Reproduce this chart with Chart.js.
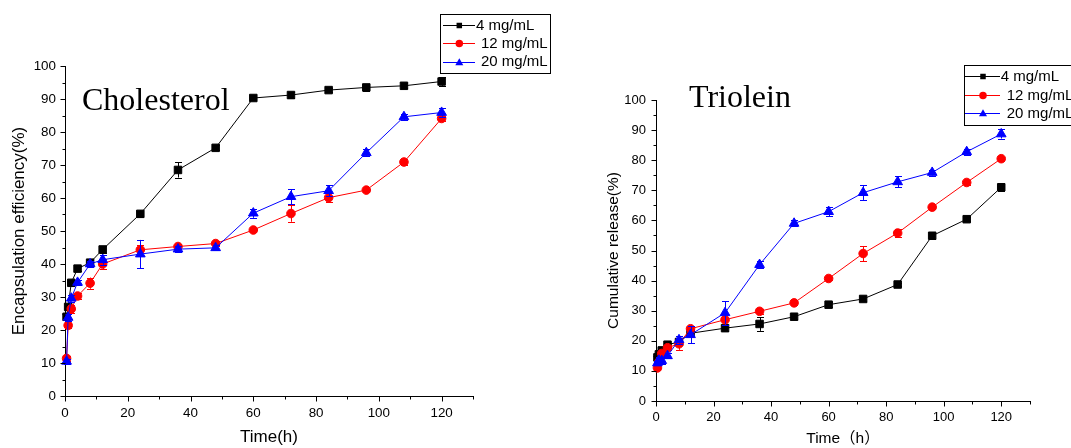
<!DOCTYPE html>
<html><head><meta charset="utf-8">
<script src="https://cdn.jsdelivr.net/npm/chart.js@4.4.1/dist/chart.umd.min.js"></script>
<style>
html,body{margin:0;padding:0;overflow:hidden;background:#fff;width:1071px;height:448px}
#c1{position:absolute;left:0;top:0}
#c2{position:absolute;left:560px;top:0}
</style></head><body>
<canvas id="c1" width="560" height="448"></canvas>
<canvas id="c2" width="540" height="448"></canvas>
<script>
// ---------- data ----------
const times = [0.5, 1, 2, 4, 8, 12, 24, 36, 48, 60, 72, 84, 96, 108, 120];
const seriesLabels = ['4 mg/mL', '12 mg/mL', '20 mg/mL'];

const chol4     = [24.0, 27.0, 34.3, 38.6, 40.4, 44.4, 55.2, 68.5, 75.2, 90.3, 91.2, 92.7, 93.5, 94.0, 95.3];
const chol4Err  = [0.8, 1.0, 1.0, 0.8, 0.8, 1.0, 1.0, 2.3, 0.8, 0.6, 0.8, 0.6, 1.0, 0.8, 1.3];
const chol12    = [11.4, 21.4, 26.4, 30.3, 34.2, 40.0, 44.3, 45.3, 46.2, 50.3, 55.3, 60.1, 62.4, 70.9, 84.1];
const chol12Err = [0.8, 0.8, 1.2, 0.8, 1.7, 1.5, 1.5, 0.8, 0.8, 0.6, 2.5, 1.3, 0.6, 1.0, 0.7];
const chol20    = [10.5, 23.8, 29.6, 34.4, 40.0, 41.3, 43.0, 44.5, 44.9, 55.4, 60.4, 62.2, 73.7, 84.6, 85.9];
const chol20Err = [0.8, 1.0, 1.0, 0.8, 1.0, 1.5, 4.3, 1.0, 0.8, 1.4, 2.3, 1.7, 1.0, 1.0, 1.3];

const tri4      = [14.5, 15.5, 16.8, 18.7, 19.6, 22.5, 24.2, 25.6, 28.0, 32.0, 33.9, 38.7, 54.9, 60.4, 71.0];
const tri4Err   = [0.6, 0.6, 0.8, 0.6, 1.0, 1.0, 1.0, 2.3, 0.6, 0.8, 0.6, 0.6, 1.0, 0.6, 1.3];
const tri12     = [11.0, 13.0, 15.8, 17.7, 19.0, 24.0, 27.0, 29.8, 32.6, 40.7, 49.0, 55.8, 64.4, 72.6, 80.5];
const tri12Err  = [0.6, 0.8, 1.0, 0.8, 2.0, 1.0, 1.8, 0.8, 0.8, 0.6, 2.5, 1.2, 0.6, 0.8, 0.7];
const tri20     = [12.6, 13.5, 13.4, 15.0, 20.3, 22.0, 29.3, 45.3, 59.0, 62.9, 69.2, 72.8, 75.9, 82.8, 88.7];
const tri20Err  = [0.8, 1.0, 1.0, 0.8, 1.2, 2.8, 3.9, 1.2, 1.0, 1.6, 2.4, 1.8, 1.0, 1.0, 1.5];

const xMajorTicks = [0, 20, 40, 60, 80, 100, 120];
const xTickLabels = ['0', '20', '40', '60', '80', '100', '120'];
const xMinorTicks = [10, 30, 50, 70, 90, 110, 130];
const yMajorTicks = [0, 10, 20, 30, 40, 50, 60, 70, 80, 90, 100];
const yTickLabels = ['0', '10', '20', '30', '40', '50', '60', '70', '80', '90', '100'];
const yMinorTicks = [5, 15, 25, 35, 45, 55, 65, 75, 85, 95];

// ---------- styling ----------
const SANS = "'Liberation Sans', Arial, 'Noto Sans CJK SC', sans-serif";
const SERIF = "'Liberation Serif', 'Times New Roman', serif";
const COLORS = ['#000000', '#ff0000', '#0000ff'];
const STYLES = ['rect', 'circle', 'triangle'];
const RADII = [5.3, 4.3, 5.6];

function drawMarker(ctx, style, x, y, s, color) {
  ctx.fillStyle = color;
  ctx.beginPath();
  if (style === 'rect') {
    ctx.rect(x - s / 2, y - s / 2, s, s);
  } else if (style === 'circle') {
    ctx.arc(x, y, s / 2, 0, Math.PI * 2);
  } else {
    const h = s * 0.87;
    ctx.moveTo(x, y - h * 0.6);
    ctx.lineTo(x + s / 2, y + h * 0.4);
    ctx.lineTo(x - s / 2, y + h * 0.4);
    ctx.closePath();
  }
  ctx.fill();
}

function buildChart(canvas, spec) {
  const datasets = spec.values.map((vals, i) => ({
    label: seriesLabels[i],
    data: times.map((t, k) => ({ x: t, y: vals[k] })),
    errors: spec.errors[i],
    borderColor: COLORS[i],
    backgroundColor: COLORS[i],
    borderWidth: 1,
    pointStyle: STYLES[i],
    pointRadius: RADII[i],
    pointBorderWidth: 1,
    pointBackgroundColor: COLORS[i],
    pointBorderColor: COLORS[i],
    tension: 0,
    clip: false,
    order: 3 - i
  }));

  const decor = {
    id: 'decor',
    afterDatasetDraw(chart, args) {
      const ds = chart.data.datasets[args.index];
      const meta = args.meta;
      const ctx = chart.ctx;
      const ys = chart.scales.y;
      ctx.save();
      ctx.strokeStyle = ds.borderColor;
      ctx.lineWidth = 1;
      meta.data.forEach((pt, k) => {
        const e = ds.errors[k];
        const v = ds.data[k].y;
        const x = Math.round(pt.x) + 0.5;
        const y1 = ys.getPixelForValue(v + e);
        const y2 = ys.getPixelForValue(v - e);
        ctx.beginPath();
        ctx.moveTo(x, y1); ctx.lineTo(x, y2);
        ctx.moveTo(x - 3.5, Math.round(y1) + 0.5); ctx.lineTo(x + 3.5, Math.round(y1) + 0.5);
        ctx.moveTo(x - 3.5, Math.round(y2) + 0.5); ctx.lineTo(x + 3.5, Math.round(y2) + 0.5);
        ctx.stroke();
      });
      ctx.restore();
    },
    afterDraw(chart) {
      const ctx = chart.ctx;
      const xs = chart.scales.x, ys = chart.scales.y;
      const area = chart.chartArea;
      ctx.save();
      ctx.strokeStyle = '#000';
      ctx.lineWidth = 1;
      ctx.beginPath();
      const bx = Math.round(area.bottom) + 0.5;
      xMajorTicks.forEach(v => { const p = Math.round(xs.getPixelForValue(v)) + 0.5; ctx.moveTo(p, bx); ctx.lineTo(p, bx + 5); });
      xMinorTicks.forEach(v => { const p = Math.round(xs.getPixelForValue(v)) + 0.5; ctx.moveTo(p, bx); ctx.lineTo(p, bx + 3); });
      const lx = Math.round(area.left) + 0.5;
      yMajorTicks.forEach(v => { const p = Math.round(ys.getPixelForValue(v)) + 0.5; ctx.moveTo(lx, p); ctx.lineTo(lx - 5, p); });
      yMinorTicks.forEach(v => { const p = Math.round(ys.getPixelForValue(v)) + 0.5; ctx.moveTo(lx, p); ctx.lineTo(lx - 3, p); });
      ctx.stroke();

      // inset title
      ctx.fillStyle = '#000';
      ctx.font = '32px ' + SERIF;
      ctx.textBaseline = 'alphabetic';
      ctx.textAlign = 'left';
      ctx.fillText(spec.inset.text, spec.inset.x, spec.inset.y);

      // legend box
      const L = spec.legend;
      ctx.strokeStyle = '#000';
      ctx.strokeRect(L.x + 0.5, L.y + 0.5, L.w, L.h);
      ctx.font = '15px ' + SANS;
      ctx.textBaseline = 'middle';
      seriesLabels.forEach((lab, i) => {
        const y = L.y + L.rows[i];
        ctx.strokeStyle = COLORS[i];
        ctx.beginPath();
        ctx.moveTo(L.x + L.line0, Math.round(y) + 0.5);
        ctx.lineTo(L.x + L.line1, Math.round(y) + 0.5);
        ctx.stroke();
        drawMarker(ctx, STYLES[i], L.x + L.mark, Math.round(y) + 0.5, [5.5, 7.5, 8][i], COLORS[i]);
        ctx.fillStyle = '#000';
        ctx.fillText(lab, L.x + L.text[i], y + 0.5);
      });
      ctx.restore();
    }
  };

  return new Chart(canvas, {
    type: 'line',
    data: { datasets },
    plugins: [decor],
    options: {
      responsive: false,
      animation: false,
      devicePixelRatio: 1,
      events: [],
      layout: { padding: { left: 0, top: spec.top, right: spec.padRight, bottom: 0 } },
      plugins: { legend: { display: false }, tooltip: { enabled: false }, title: { display: false } },
      scales: {
        x: {
          type: 'linear', min: 0, max: 130,
          afterBuildTicks: sc => { sc.ticks = xMajorTicks.map(v => ({ value: v })); },
          afterFit: sc => { sc.height = spec.xHeight; },
          grid: { display: false, drawTicks: false },
          border: { display: true, color: '#000', width: 1 },
          ticks: { color: '#000', font: { family: SANS, size: spec.tickSize }, padding: spec.xTickPad,
                   maxRotation: 0, autoSkip: false, callback: (v, i) => xTickLabels[i] },
          title: { display: true, text: spec.xTitle, color: '#000',
                   font: { family: SANS, size: spec.titleSize }, padding: { top: 0, bottom: 0 } }
        },
        y: {
          type: 'linear', min: 0, max: 100,
          afterBuildTicks: sc => { sc.ticks = yMajorTicks.map(v => ({ value: v })); },
          afterFit: sc => { sc.width = spec.yWidth; },
          grid: { display: false, drawTicks: false },
          border: { display: true, color: '#000', width: 1 },
          ticks: { color: '#000', font: { family: SANS, size: spec.tickSize }, padding: spec.yTickPad,
                   autoSkip: false, callback: (v, i) => yTickLabels[i] },
          title: { display: true, text: spec.yTitle, color: '#000',
                   font: { family: SANS, size: spec.titleSize }, padding: { top: spec.yTitlePad, bottom: 0 } }
        }
      }
    }
  });
}

buildChart(document.getElementById('c1'), {
  values: [chol4, chol12, chol20],
  errors: [chol4Err, chol12Err, chol20Err],
  top: 66, padRight: 87, xHeight: 52, yWidth: 65,
  tickSize: 13.4, titleSize: 17, xTickPad: 9, yTickPad: 9, yTitlePad: 8.8,
  xTitle: 'Time(h)', yTitle: 'Encapsulation efficiency(%)',
  inset: { text: 'Cholesterol', x: 82, y: 109.5 },
  legend: { x: 440, y: 14, w: 110, h: 59, rows: [11, 29.3, 47.7], line0: 3, line1: 35, mark: 19.3, text: [36, 41, 41] }
});

buildChart(document.getElementById('c2'), {
  values: [tri4, tri12, tri20],
  errors: [tri4Err, tri12Err, tri20Err],
  top: 100, padRight: 70, xHeight: 47, yWidth: 96,
  tickSize: 13, titleSize: 15.5, xTickPad: 9, yTickPad: 10, yTitlePad: 44.3,
  xTitle: 'Time（h）', yTitle: 'Cumulative release(%)',
  inset: { text: 'Triolein', x: 129, y: 106.7 },
  legend: { x: 404, y: 65, w: 112, h: 60, rows: [11, 30, 48.3], line0: 1, line1: 36, mark: 19, text: [36.7, 42.7, 42.7] }
});
</script>
</body></html>
